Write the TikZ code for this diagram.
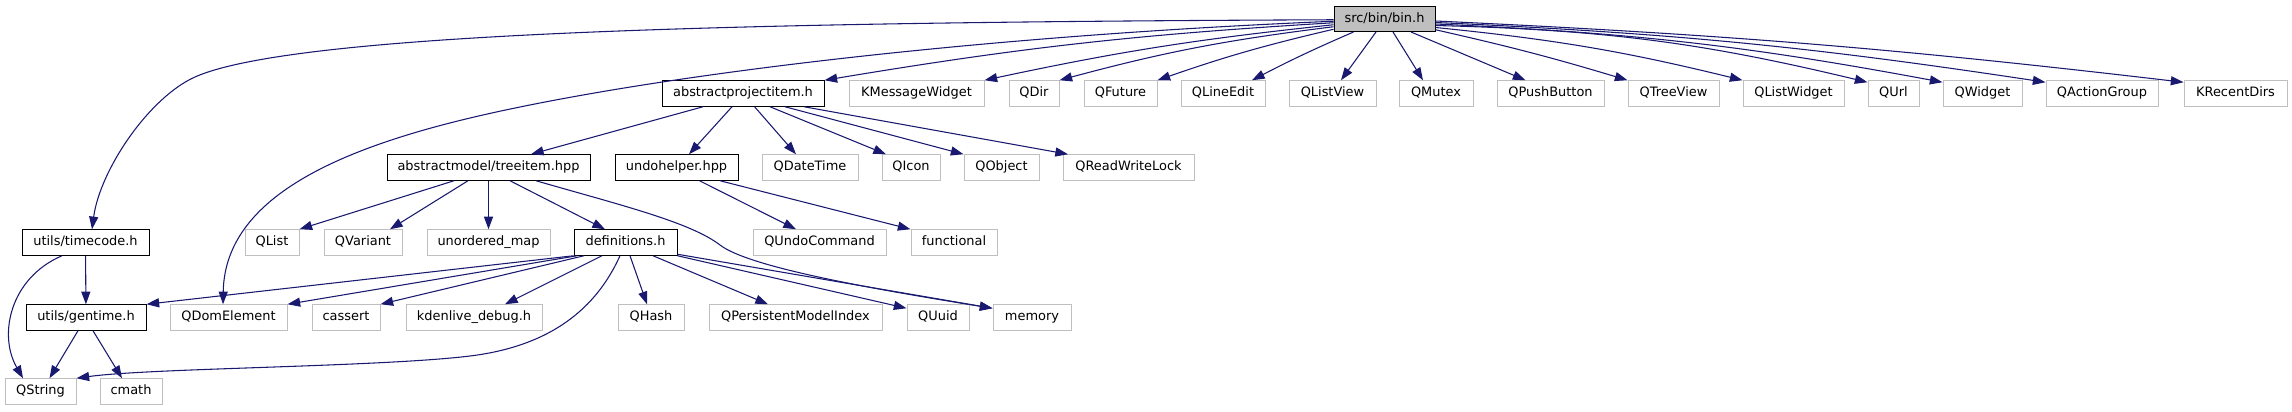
\documentclass[tikz,border=0pt]{standalone}
\usepackage{fontspec}
\setmainfont{DejaVu Sans}
\usetikzlibrary{arrows.meta}
\definecolor{edgeblue}{HTML}{191970}
\definecolor{boxgray}{HTML}{BFBFBF}
\begin{document}
\begin{tikzpicture}[x=0.75pt,y=-0.75pt,
  box/.style={draw=black, line width=0.75pt, fill=white, minimum height=25.5*0.75pt,
    inner sep=0pt, font=\fontsize{9.7pt}{11pt}\selectfont, text height=7.2pt, text depth=2pt},
  ext/.style={box, draw=boxgray},
  root/.style={box, fill=boxgray},
  bw/.style={minimum width=#1*0.75pt},
  dep/.style={draw=edgeblue, line width=0.8pt, -{Triangle[length=9.5pt,width=6.8pt]}}
]
\useasboundingbox (0,0) rectangle (2292,411);
% row 0
\node[root,bw=101] (bin) at (1384.5,18.75) {src/bin/bin.h};
% row 1
\node[box,bw=162] (api) at (743,93.5) {abstractprojectitem.h};
\node[ext,bw=135] (kmw) at (916.5,93.5) {KMessageWidget};
\node[ext,bw=50] (qdir) at (1034,93.5) {QDir};
\node[ext,bw=73] (qfuture) at (1120.5,93.5) {QFuture};
\node[ext,bw=84] (qlineedit) at (1223,93.5) {QLineEdit};
\node[ext,bw=87] (qlistview) at (1332.5,93.5) {QListView};
\node[ext,bw=74] (qmutex) at (1436,93.5) {QMutex};
\node[ext,bw=107] (qpushbutton) at (1550.5,93.5) {QPushButton};
\node[ext,bw=91] (qtreeview) at (1673.5,93.5) {QTreeView};
\node[ext,bw=101] (qlistwidget) at (1793.5,93.5) {QListWidget};
\node[ext,bw=51] (qurl) at (1893.5,93.5) {QUrl};
\node[ext,bw=79] (qwidget) at (1982.5,93.5) {QWidget};
\node[ext,bw=112] (qactiongroup) at (2102,93.5) {QActionGroup};
\node[ext,bw=103] (krecentdirs) at (2235.5,93.5) {KRecentDirs};
% row 2
\node[box,bw=203] (treeitem) at (488.5,167.5) {abstractmodel/treeitem.hpp};
\node[box,bw=123] (undohelper) at (676.5,167.5) {undohelper.hpp};
\node[ext,bw=96] (qdatetime) at (810,167.5) {QDateTime};
\node[ext,bw=58] (qicon) at (911,167.5) {QIcon};
\node[ext,bw=75] (qobject) at (1001.5,167.5) {QObject};
\node[ext,bw=131] (qreadwritelock) at (1128.5,167.5) {QReadWriteLock};
% row 3
\node[box,bw=127] (timecode) at (85.5,242.5) {utils/timecode.h};
\node[ext,bw=54] (qlist) at (272,242.5) {QList};
\node[ext,bw=78] (qvariant) at (363,242.5) {QVariant};
\node[ext,bw=123] (unorderedmap) at (488.5,242.5) {unordered\_map};
\node[box,bw=103] (definitions) at (625.5,242.5) {definitions.h};
\node[ext,bw=133] (qundocommand) at (819.5,242.5) {QUndoCommand};
\node[ext,bw=86] (functional) at (954,242.5) {functional};
% row 4
\node[box,bw=120] (gentime) at (86,317.5) {utils/gentime.h};
\node[ext,bw=117] (qdomelement) at (228.5,317.5) {QDomElement};
\node[ext,bw=68] (cassert) at (346,317.5) {cassert};
\node[ext,bw=136] (kdebug) at (474,317.5) {kdenlive\_debug.h};
\node[ext,bw=66] (qhash) at (651,317.5) {QHash};
\node[ext,bw=173] (qpmi) at (795.5,317.5) {QPersistentModelIndex};
\node[ext,bw=62] (quuid) at (938,317.5) {QUuid};
\node[ext,bw=78] (memory) at (1032,317.5) {memory};
% row 5
\node[ext,bw=71] (qstring) at (40.5,391.5) {QString};
\node[ext,bw=62] (cmath) at (131,391.5) {cmath};

% edges from bin.h
\draw[dep] ([shift={(0,1)}]bin.west) .. controls (800,22) and (300,30) .. (195,77)
  .. controls (149,97.5) and (100,170) .. ([shift={(6.5,0)}]timecode.north);
\draw[dep] ([shift={(0,2.5)}]bin.west) .. controls (1000,35) and (700,70) .. (520,107)
  .. controls (358,140) and (225,190) .. ([shift={(-5.5,0)}]qdomelement.north);
\draw[dep] ([shift={(0,4)}]bin.west) to[bend right=3] (api.north east);
\draw[dep] ([shift={(0,6)}]bin.west) to[bend right=3] (kmw.north east);
\draw[dep] ([shift={(0,8)}]bin.west) to[bend right=4] (qdir.north east);
\draw[dep] ([shift={(0,10.5)}]bin.west) to[bend right=3] (qfuture.north east);
\draw[dep] ([shift={(-31,0)}]bin.south) to[bend right=2] ([shift={(29,0)}]qlineedit.north);
\draw[dep] ([shift={(-8.5,0)}]bin.south) -- ([shift={(8.5,0)}]qlistview.north);
\draw[dep] ([shift={(8.5,0)}]bin.south) -- ([shift={(-13,0)}]qmutex.north);
\draw[dep] ([shift={(26.5,0)}]bin.south) -- ([shift={(-25,0)}]qpushbutton.north);
\draw[dep] ([shift={(0,11)}]bin.east) to[bend left=2] (qtreeview.north west);
\draw[dep] ([shift={(0,8.75)}]bin.east) to[bend left=4] (qlistwidget.north west);
\draw[dep] ([shift={(0,6.75)}]bin.east) to[bend left=6] ([shift={(0,2)}]qurl.north west);
\draw[dep] ([shift={(0,5.25)}]bin.east) to[bend left=4] ([shift={(0,2)}]qwidget.north west);
\draw[dep] ([shift={(0,3.75)}]bin.east) to[bend left=3] ([shift={(0,2)}]qactiongroup.north west);
\draw[dep] ([shift={(0,2.25)}]bin.east) to[bend left=2] ([shift={(0,2)}]krecentdirs.north west);
% edges from abstractprojectitem.h
\draw[dep] ([shift={(-40,0)}]api.south) -- ([shift={(42.5,0)}]treeitem.north);
\draw[dep] ([shift={(-11,0)}]api.south) -- ([shift={(12.5,0)}]undohelper.north);
\draw[dep] ([shift={(11.6,0)}]api.south) -- ([shift={(-14,0)}]qdatetime.north);
\draw[dep] ([shift={(27,0)}]api.south) -- ([shift={(-25,0)}]qicon.north);
\draw[dep] ([shift={(42,0)}]api.south) -- (qobject.north west);
\draw[dep] ([shift={(61,0)}]api.south) -- ([shift={(-60.5,0)}]qreadwritelock.north);
% edges from treeitem.hpp
\draw[dep] ([shift={(-34.5,0)}]treeitem.south) -- (qlist.north east);
\draw[dep] ([shift={(-20.5,0)}]treeitem.south) -- ([shift={(27,0)}]qvariant.north);
\draw[dep] (treeitem) -- (unorderedmap);
\draw[dep] ([shift={(21.5,0)}]treeitem.south) -- ([shift={(-20.5,0)}]definitions.north);
\draw[dep] ([shift={(47.5,0)}]treeitem.south) .. controls (620,205) and (690,222) .. (720,245)
  .. controls (750,268) and (880,290) .. ([shift={(0,4)}]memory.north west);
% edges from undohelper.hpp
\draw[dep] ([shift={(23,0)}]undohelper.south) -- ([shift={(-23.5,0)}]qundocommand.north);
\draw[dep] ([shift={(43.5,0)}]undohelper.south) -- (functional.north west);
% edges from timecode.h
\draw[dep] (timecode) -- (gentime);
\draw[dep] ([shift={(-23.5,0)}]timecode.south) .. controls (10,278) and (-2,335) .. ([shift={(-17.5,0)}]qstring.north);
% edges from definitions.h
\draw[dep] (definitions.south west) -- (gentime.north east);
\draw[dep] ([shift={(-48.5,0)}]definitions.south) -- (qdomelement.north east);
\draw[dep] ([shift={(-41.5,0)}]definitions.south) -- (cassert.north east);
\draw[dep] ([shift={(-23.5,0)}]definitions.south) -- ([shift={(31,0)}]kdebug.north);
\draw[dep] ([shift={(4.5,0)}]definitions.south) -- ([shift={(-4,0)}]qhash.north);
\draw[dep] ([shift={(27.5,0)}]definitions.south) -- ([shift={(-27.5,0)}]qpmi.north);
\draw[dep] (definitions.south east) -- ([shift={(0,4)}]quuid.north west);
\draw[dep] ([shift={(0,-1.5)}]definitions.south east) -- ([shift={(0,4)}]memory.north west);
\draw[dep] ([shift={(-5.5,0)}]definitions.south) .. controls (600,300) and (560,345) .. (470,356)
  .. controls (380,367) and (150,368) .. (qstring.north east);
% edges from gentime.h
\draw[dep] ([shift={(-8,0)}]gentime.south) -- ([shift={(9,0)}]qstring.north);
\draw[dep] ([shift={(7,0)}]gentime.south) -- ([shift={(-9,0)}]cmath.north);
\end{tikzpicture}
\end{document}
